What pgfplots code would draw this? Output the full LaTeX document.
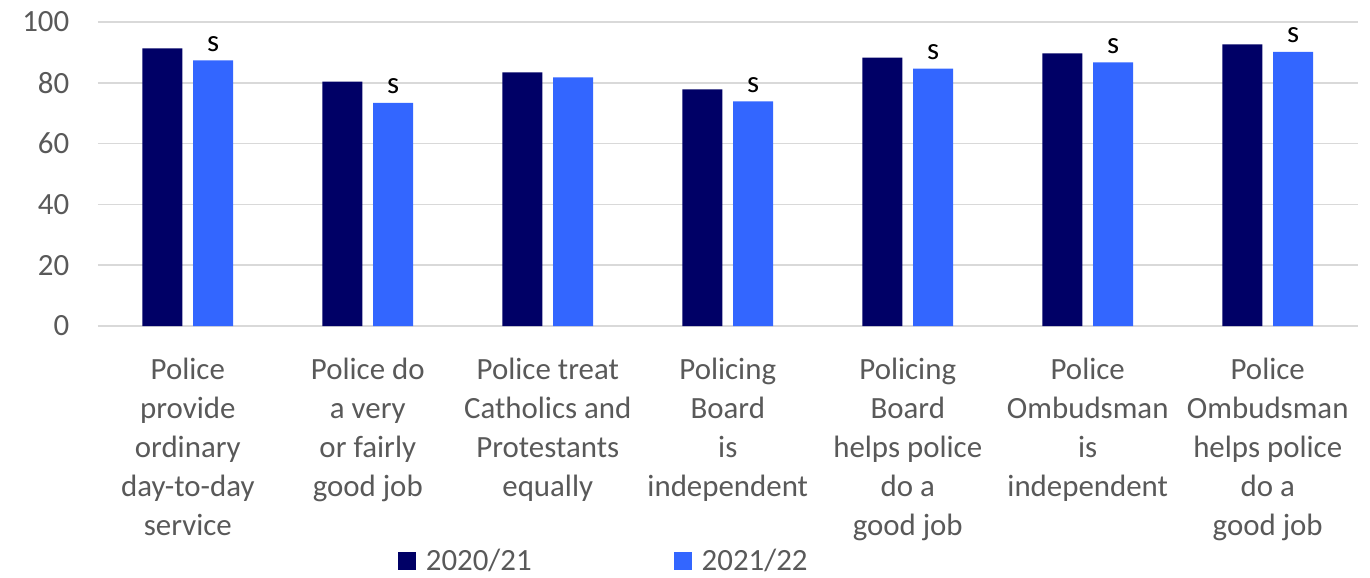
\documentclass[border=0pt]{standalone}
\usepackage{pgfplots}
\pgfplotsset{compat=1.18}
\usepackage{fontspec}
\setmainfont{Carlito}
\definecolor{dark}{HTML}{000066}
\definecolor{light}{HTML}{3366FF}
\definecolor{txt}{HTML}{595959}
\definecolor{gridc}{HTML}{D9D9D9}
\begin{document}
\begin{tikzpicture}
\path[use as bounding box] (-97.8bp,-252bp) rectangle (1272.2bp,326bp);
\begin{axis}[
  at={(0,0)}, anchor=south west,
  scale only axis, width=1260bp, height=304bp,
  xmin=-0.5, xmax=6.5, ymin=0, ymax=100,
  ytick={0,20,40,60,80,100},
  xtick={0,1,2,3,4,5,6},
  xticklabels={
    {Police\\provide\\ordinary\\day-to-day\\service},
    {Police do\\a very\\or fairly\\good job},
    {Police treat\\Catholics and\\Protestants\\equally},
    {Policing\\Board\\is\\independent},
    {Policing\\Board\\helps police\\do a\\good job},
    {Police\\Ombudsman\\is\\independent},
    {Police\\Ombudsman\\helps police\\do a\\good job}},
  xticklabel style={align=center, yshift=-29bp, text=txt, font=\fontsize{31}{39}\selectfont},
  yticklabel style={xshift=-25bp, text=txt, font=\fontsize{31}{39}\selectfont},
  /pgf/number format/assume math mode=true,
  ymajorgrids, grid style={gridc, line width=1.5bp},
  axis line style={draw=none},
  major tick length=0pt,
  clip=false,
  legend columns=2,
  legend style={draw=none, fill=none, at={(0.238,-0.772)}, anchor=west,
    inner sep=0pt, font=\fontsize{31}{39}\selectfont, text=txt,
    /tikz/every odd column/.append style={column sep=8bp},
    /tikz/every even column/.append style={column sep=140bp}},
  legend image code/.code={\fill[#1,draw=none] (0bp,-9bp) rectangle (18bp,9bp);},
]
\addplot[ybar, bar width=40bp, bar shift=-25.3bp, fill=dark, draw=none]
  coordinates {(0,91.3) (1,80.4) (2,83.4) (3,77.8) (4,88.3) (5,89.7) (6,92.6)};
\addlegendentry{2020/21}
\addplot[ybar, bar width=40bp, bar shift=25.3bp, fill=light, draw=none,
  point meta=explicit symbolic, nodes near coords,
  nodes near coords style={anchor=south, inner sep=0pt, xshift=25.3bp, yshift=8.6bp, text=black, font=\fontsize{31}{39}\selectfont}]
  coordinates {(0,87.4)[s] (1,73.4)[s] (2,81.8)[] (3,73.9)[s] (4,84.7)[s] (5,86.7)[s] (6,90.2)[s]};
\addlegendentry{2021/22}
\end{axis}
\end{tikzpicture}
\end{document}
